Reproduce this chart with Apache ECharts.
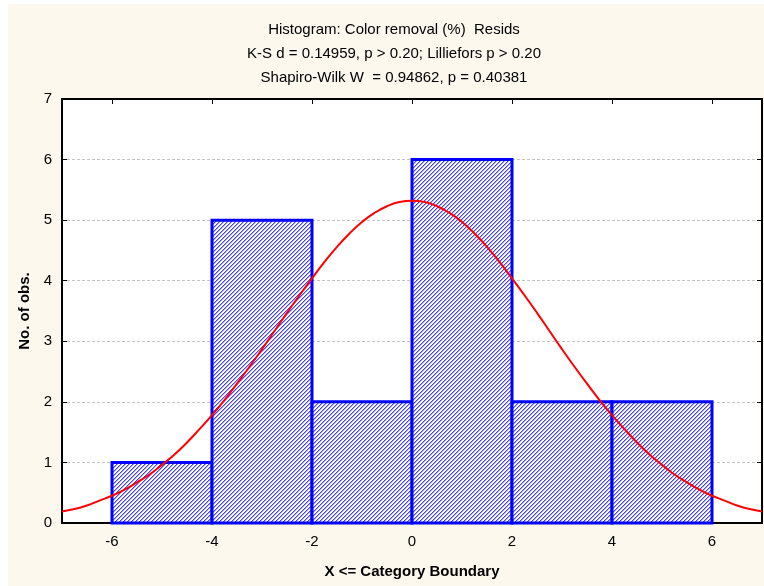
<!DOCTYPE html>
<html>
<head>
<meta charset="utf-8">
<script src="https://cdn.jsdelivr.net/npm/echarts@6/dist/echarts.min.js"></script>
<style>
  html, body { margin: 0; padding: 0; background: #ffffff; }
  #chart { position: absolute; left: 8px; top: 4px; width: 756px; height: 582px; }
</style>
</head>
<body>
<div id="chart"></div>
<script>
// Histogram of residuals: bin edges, observed counts per bin
const binEdges = [-6, -4, -2, 0, 2, 4, 6];
const counts = [1, 5, 2, 6, 2, 2];

// Expected-normal curve, sampled every 0.25 along the x range
const curveX = [-7, -6.75, -6.5, -6.25, -6, -5.75, -5.5, -5.25, -5, -4.75, -4.5, -4.25,
                -4, -3.75, -3.5, -3.25, -3, -2.75, -2.5, -2.25, -2, -1.75, -1.5, -1.25,
                -1, -0.75, -0.5, -0.25, 0, 0.25, 0.5, 0.75, 1, 1.25, 1.5, 1.75,
                2, 2.25, 2.5, 2.75, 3, 3.25, 3.5, 3.75, 4, 4.25, 4.5, 4.75,
                5, 5.25, 5.5, 5.75, 6, 6.25, 6.5, 6.75, 7];
const curveY = [0.19, 0.23, 0.29, 0.37, 0.45, 0.55, 0.67, 0.80, 0.96, 1.13, 1.33, 1.55,
                1.78, 2.03, 2.30, 2.58, 2.87, 3.17, 3.47, 3.76, 4.04, 4.31, 4.56, 4.78,
                4.97, 5.12, 5.23, 5.30, 5.32, 5.30, 5.23, 5.12, 4.97, 4.78, 4.56, 4.31,
                4.04, 3.76, 3.47, 3.17, 2.87, 2.58, 2.30, 2.03, 1.78, 1.55, 1.33, 1.13,
                0.96, 0.80, 0.67, 0.55, 0.45, 0.37, 0.29, 0.23, 0.19];

const xTicks = [-6, -4, -2, 0, 2, 4, 6];

const titleLines = [
  'Histogram: Color removal (%)  Resids',
  'K-S d = 0.14959, p > 0.20; Lilliefors p > 0.20',
  'Shapiro-Wilk W  = 0.94862, p = 0.40381'
];
const xName = 'X <= Category Boundary';
const yName = 'No. of obs.';

const FONT = '"Liberation Sans", Arial, sans-serif';

// Diagonal hatch fill for the bars
const hatch = document.createElement('canvas');
hatch.width = 4; hatch.height = 4;
(function () {
  const ctx = hatch.getContext('2d');
  ctx.fillStyle = '#ffffff';
  ctx.fillRect(0, 0, 4, 4);
  for (let y = 0; y < 4; y++) {
    for (let x = 0; x < 4; x++) {
      const k = (x + y) % 4;
      if (k === 0) { ctx.fillStyle = '#4040ff'; ctx.fillRect(x, y, 1, 1); }
      else if (k === 1) { ctx.fillStyle = '#a8a8ff'; ctx.fillRect(x, y, 1, 1); }
    }
  }
})();
const hatchFill = { image: hatch, repeat: 'repeat' };

const barData = counts.map((c, i) => [binEdges[i], binEdges[i + 1], c]);
const curveData = curveX.map((x, i) => [x, curveY[i]]);

const chart = echarts.init(document.getElementById('chart'), null, { renderer: 'canvas' });

const axisLineStyle = { color: '#000000', width: 2 };

chart.setOption({
  backgroundColor: '#fdf8ee',
  animation: false,
  graphic: titleLines.map((t, i) => ({
    type: 'text',
    x: 386,
    y: 18 + i * 24,
    style: { text: t, fill: '#000000', font: '15px ' + FONT, textAlign: 'center' }
  })),
  grid: {
    left: 54, right: 2, top: 95, bottom: 63,
    show: true, backgroundColor: '#ffffff', borderWidth: 0
  },
  xAxis: [
    {
      type: 'value', min: -7, max: 7, position: 'bottom',
      name: xName, nameLocation: 'middle', nameGap: 41,
      nameTextStyle: { color: '#000000', fontFamily: FONT, fontSize: 15, fontWeight: 'bold' },
      axisLine: { show: true, onZero: false, lineStyle: axisLineStyle },
      axisTick: { show: true, inside: true, length: 5, customValues: xTicks, lineStyle: { color: '#000000' } },
      axisLabel: { show: true, customValues: xTicks, margin: 11, color: '#000000', fontFamily: FONT, fontSize: 15 },
      splitLine: { show: false }
    },
    {
      type: 'value', min: -7, max: 7, position: 'top',
      axisLine: { show: true, onZero: false, lineStyle: axisLineStyle },
      axisTick: { show: true, inside: true, length: 5, customValues: xTicks, lineStyle: { color: '#000000' } },
      axisLabel: { show: false },
      splitLine: { show: false }
    }
  ],
  yAxis: [
    {
      type: 'value', min: 0, max: 7, interval: 1, position: 'left',
      name: yName, nameLocation: 'middle', nameGap: 30,
      nameTextStyle: { color: '#000000', fontFamily: FONT, fontSize: 15, fontWeight: 'bold' },
      axisLine: { show: true, onZero: false, lineStyle: axisLineStyle },
      axisTick: { show: true, inside: true, length: 5, lineStyle: { color: '#000000' } },
      axisLabel: { show: true, margin: 10, color: '#000000', fontFamily: FONT, fontSize: 15 },
      splitLine: { show: true, lineStyle: { color: '#c4c4c4', width: 1, type: [3, 2] } }
    },
    {
      type: 'value', min: 0, max: 7, interval: 1, position: 'right',
      axisLine: { show: true, onZero: false, lineStyle: axisLineStyle },
      axisTick: { show: true, inside: true, length: 5, lineStyle: { color: '#000000' } },
      axisLabel: { show: false },
      splitLine: { show: false }
    }
  ],
  series: [
    {
      type: 'custom',
      xAxisIndex: 0, yAxisIndex: 0,
      encode: { x: [0, 1], y: 2 },
      data: barData,
      z: 2,
      renderItem: function (params, api) {
        const topLeft = api.coord([api.value(0), api.value(2)]);
        const bottomRight = api.coord([api.value(1), 0]);
        return {
          type: 'rect',
          shape: {
            x: topLeft[0], y: topLeft[1],
            width: bottomRight[0] - topLeft[0],
            height: bottomRight[1] - topLeft[1]
          },
          style: { fill: hatchFill, stroke: '#0000ff', lineWidth: 3 }
        };
      }
    },
    {
      type: 'line',
      xAxisIndex: 0, yAxisIndex: 0,
      data: curveData,
      smooth: true,
      symbol: 'none',
      z: 3,
      lineStyle: { color: '#ff0000', width: 2 }
    }
  ]
});
</script>
</body>
</html>
